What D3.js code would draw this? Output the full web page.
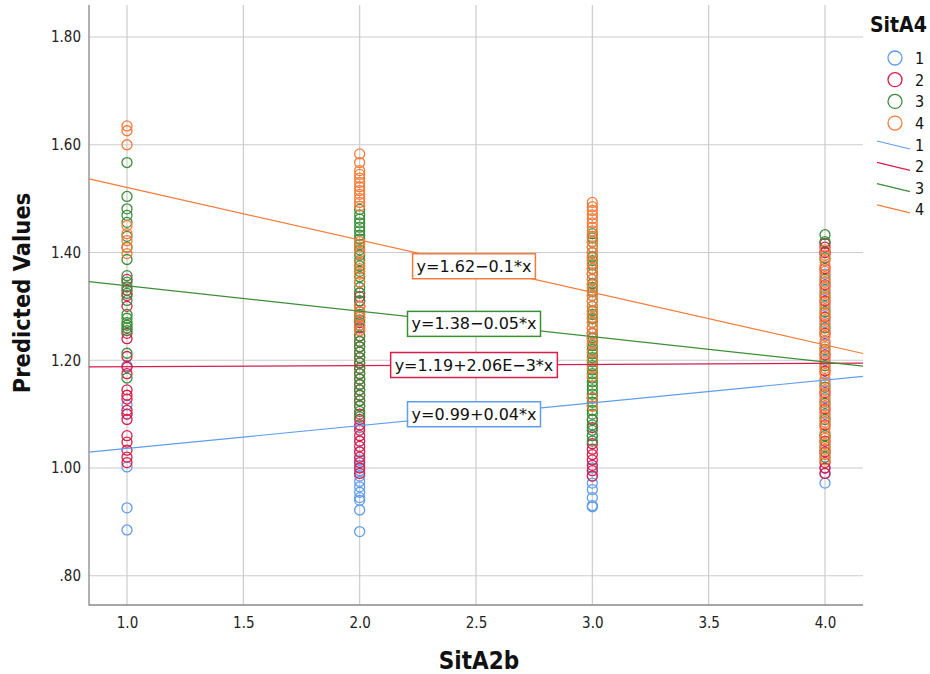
<!DOCTYPE html>
<html><head><meta charset="utf-8">
<script src="https://cdn.jsdelivr.net/npm/d3@7"></script>
<style>
html,body{margin:0;padding:0;background:#fff;}
svg{display:block;}
</style></head>
<body><svg id="c" width="930" height="674"></svg>
<script>
// ---- data ----
const groups = ["1", "2", "3", "4"];
const colors = ["#5f9ded", "#d81e4c", "#3b8e38", "#f47c3a"];
const xLevels = [1, 2, 3, 4];
const xTicks = [1.0, 1.5, 2.0, 2.5, 3.0, 3.5, 4.0];
const yTicks = [0.8, 1.0, 1.2, 1.4, 1.6, 1.8];
const yTickLabels = [".80", "1.00", "1.20", "1.40", "1.60", "1.80"];

// predicted values per group, one array per SitA2b level (1,2,3,4)
const group1 = [
  [1.19, 1.117, 1.10, 1.002, 0.926, 0.885],
  [1.075, 1.05, 1.03, 1.015, 1.005, 0.995, 0.985, 0.975, 0.965, 0.955, 0.945, 0.94, 0.922, 0.882],
  [1.24, 1.06, 1.00, 0.985, 0.972, 0.96, 0.945, 0.93, 0.928],
  [1.40, 1.36, 1.33, 1.30, 1.27, 1.23, 1.20, 1.16, 1.13, 1.10, 1.06, 1.03, 1.00, 0.99, 0.972]
];
const group2 = [
  [1.35, 1.33, 1.32, 1.30, 1.25, 1.24, 1.207, 1.187, 1.175, 1.145, 1.135, 1.128, 1.107, 1.10, 1.09, 1.06, 1.048, 1.033, 1.02, 1.01],
  [1.325, 1.318, 1.31, 1.30, 1.29, 1.28, 1.27, 1.26, 1.245, 1.235, 1.225, 1.215, 1.205, 1.195, 1.185, 1.175, 1.165, 1.155, 1.145, 1.135, 1.125, 1.115, 1.10, 1.09, 1.08, 1.07, 1.06, 1.05, 1.04, 1.03, 1.02, 1.01, 1.00, 0.99],
  [1.36, 1.25, 1.13, 1.09, 1.075, 1.045, 1.035, 1.025, 1.015, 1.005, 0.995, 0.985],
  [1.417, 1.41, 1.40, 1.37, 1.34, 1.31, 1.28, 1.25, 1.21, 1.18, 1.14, 1.11, 1.08, 1.05, 1.03, 1.01, 1.00, 0.99]
];
const group3 = [
  [1.567, 1.504, 1.481, 1.469, 1.456, 1.43, 1.41, 1.387, 1.357, 1.345, 1.336, 1.324, 1.311, 1.285, 1.278, 1.27, 1.265, 1.26, 1.255, 1.213, 1.167],
  [1.48, 1.47, 1.462, 1.455, 1.447, 1.44, 1.432, 1.425, 1.415, 1.405, 1.395, 1.385, 1.375, 1.365, 1.355, 1.345, 1.335, 1.325, 1.31, 1.30, 1.285, 1.275, 1.265, 1.255, 1.245, 1.235, 1.225, 1.215, 1.205, 1.195, 1.185, 1.175, 1.165, 1.155, 1.145, 1.135, 1.125, 1.115, 1.105, 1.095],
  [1.435, 1.427, 1.42, 1.41, 1.40, 1.392, 1.385, 1.377, 1.37, 1.36, 1.35, 1.342, 1.335, 1.327, 1.32, 1.31, 1.30, 1.292, 1.285, 1.277, 1.27, 1.26, 1.25, 1.242, 1.235, 1.227, 1.22, 1.212, 1.205, 1.197, 1.19, 1.182, 1.175, 1.167, 1.16, 1.152, 1.145, 1.137, 1.13, 1.122, 1.115, 1.107, 1.10, 1.09, 1.08, 1.07, 1.06, 1.05],
  [1.433, 1.42, 1.39, 1.35, 1.32, 1.29, 1.26, 1.22, 1.19, 1.15, 1.12, 1.09, 1.06, 1.04, 1.02]
];
const group4 = [
  [1.635, 1.626, 1.60, 1.45, 1.435, 1.422, 1.409, 1.398],
  [1.583, 1.567, 1.552, 1.545, 1.538, 1.530, 1.522, 1.515, 1.508, 1.500, 1.493, 1.486, 1.42, 1.41, 1.40, 1.38, 1.37, 1.36, 1.345, 1.30, 1.29, 1.28, 1.265, 1.255],
  [1.493, 1.485, 1.478, 1.47, 1.463, 1.455, 1.447, 1.44, 1.43, 1.42, 1.41, 1.40, 1.39, 1.38, 1.37, 1.36, 1.35, 1.34, 1.33, 1.32, 1.31, 1.30, 1.29, 1.28, 1.27, 1.26, 1.25, 1.24, 1.23, 1.215, 1.20, 1.185, 1.17, 1.13, 1.115],
  [1.405, 1.395, 1.385, 1.375, 1.365, 1.355, 1.345, 1.335, 1.325, 1.315, 1.305, 1.295, 1.285, 1.275, 1.265, 1.255, 1.245, 1.235, 1.225, 1.215, 1.205, 1.195, 1.185, 1.175, 1.165, 1.155, 1.145, 1.135, 1.125, 1.115, 1.105, 1.095, 1.085, 1.075, 1.065, 1.055, 1.045, 1.035, 1.025, 1.015]
];
const groupValues = [group1, group2, group3, group4];

// fit lines
const intercepts = [0.994, 1.186, 1.3855, 1.618];
const slopes = [0.0423, 0.00206, -0.0472, -0.0974];
const fitLabels = ["y=0.99+0.04*x", "y=1.19+2.06E\u22123*x", "y=1.38\u22120.05*x", "y=1.62\u22120.1*x"];
const labelAtX = 2.5;

// ---- chart ----
const svg = d3.select("#c");
const pLeft = 89, pRight = 863, pTop = 5, pBottom = 605;
const x = d3.scaleLinear().domain([0.8367, 4.1633]).range([pLeft, pRight]);
const y = d3.scaleLinear().domain([0.7457, 1.8594]).range([pBottom, pTop]);

const tickFont = "'DejaVu Sans Condensed','DejaVu Sans',sans-serif";

// grid
const grid = svg.append("g");
grid.selectAll("line.gx").data(xTicks).join("line")
  .attr("x1", d => x(d)).attr("x2", d => x(d)).attr("y1", pTop).attr("y2", pBottom)
  .attr("stroke", "#cccccc").attr("stroke-width", 1.2);
grid.selectAll("line.gy").data(yTicks).join("line")
  .attr("x1", pLeft).attr("x2", pRight).attr("y1", d => y(d)).attr("y2", d => y(d))
  .attr("stroke", "#cccccc").attr("stroke-width", 1.2);

// axes
const xAxis = d3.axisBottom(x).tickValues(xTicks).tickFormat(d3.format(".1f")).tickSize(0).tickPadding(12);
const yAxis = d3.axisLeft(y).tickValues(yTicks).tickFormat((d, i) => yTickLabels[i]).tickSize(0).tickPadding(8);
const gx = svg.append("g").attr("transform", `translate(0,${pBottom})`).call(xAxis);
const gy = svg.append("g").attr("transform", `translate(${pLeft},0)`).call(yAxis);
[gx, gy].forEach(g => {
  g.select(".domain").remove();
  g.selectAll("text").attr("font-family", tickFont).attr("font-size", 15).attr("fill", "#222");
});
svg.append("line").attr("x1", pLeft).attr("x2", pLeft).attr("y1", pTop).attr("y2", pBottom + 0.5)
  .attr("stroke", "#888").attr("stroke-width", 1.3);
svg.append("line").attr("x1", pLeft).attr("x2", pRight).attr("y1", pBottom).attr("y2", pBottom)
  .attr("stroke", "#888").attr("stroke-width", 1.3);

// points
const pts = svg.append("g");
groupValues.forEach((gv, gi) => {
  const flat = [];
  gv.forEach((vals, li) => vals.forEach(v => flat.push({xv: xLevels[li], yv: v})));
  pts.append("g").selectAll("circle").data(flat).join("circle")
    .attr("cx", d => x(d.xv)).attr("cy", d => y(d.yv)).attr("r", 5)
    .attr("fill", "none").attr("stroke", colors[gi]).attr("stroke-width", 1.3);
});

// fit lines
const xd = x.domain();
groups.forEach((g, gi) => {
  const f = v => intercepts[gi] + slopes[gi] * v;
  svg.append("line")
    .attr("x1", x(xd[0])).attr("y1", y(f(xd[0])))
    .attr("x2", x(xd[1])).attr("y2", y(f(xd[1])))
    .attr("stroke", colors[gi]).attr("stroke-width", 1.2);
});

// fit labels
groups.forEach((g, gi) => {
  const cx = x(labelAtX) - 2, cy = y(intercepts[gi] + slopes[gi] * labelAtX);
  const lg = svg.append("g");
  const t = lg.append("text").attr("x", cx).attr("y", cy).attr("text-anchor", "middle")
    .attr("dominant-baseline", "central")
    .attr("font-family", "'DejaVu Sans',sans-serif").attr("font-size", 16).attr("fill", "#111")
    .text(fitLabels[gi]);
  const bb = t.node().getBBox();
  lg.insert("rect", "text").attr("x", bb.x - 4).attr("y", cy - 12.5)
    .attr("width", bb.width + 8).attr("height", 25)
    .attr("fill", "#fff").attr("stroke", colors[gi]).attr("stroke-width", 1.5);
});

// axis titles
svg.append("text").attr("x", 479).attr("y", 669).attr("text-anchor", "middle")
  .attr("font-family", tickFont).attr("font-weight", "bold").attr("font-size", 24).attr("fill", "#111")
  .text("SitA2b");
svg.append("text").attr("transform", "translate(30,293) rotate(-90)").attr("text-anchor", "middle")
  .attr("font-family", tickFont).attr("font-weight", "bold").attr("font-size", 23.5).attr("fill", "#111")
  .text("Predicted Values");

// legend
const lg = svg.append("g");
lg.append("text").attr("x", 870).attr("y", 32).attr("font-family", tickFont).attr("font-weight", "bold")
  .attr("font-size", 21).attr("fill", "#111").text("SitA4");
groups.forEach((g, gi) => {
  const cy = 58 + gi * 21.7;
  lg.append("circle").attr("cx", 895).attr("cy", cy).attr("r", 7)
    .attr("fill", "none").attr("stroke", colors[gi]).attr("stroke-width", 1.3);
  lg.append("text").attr("x", 915).attr("y", cy + 6).attr("font-family", tickFont)
    .attr("font-size", 16).attr("fill", "#111").text(g);
});
groups.forEach((g, gi) => {
  const cy = 145 + gi * 21.3;
  lg.append("line").attr("x1", 877).attr("y1", cy - 4).attr("x2", 910).attr("y2", cy + 4)
    .attr("stroke", colors[gi]).attr("stroke-width", 1.2);
  lg.append("text").attr("x", 915).attr("y", cy + 6).attr("font-family", tickFont)
    .attr("font-size", 16).attr("fill", "#111").text(g);
});
</script></body></html>
